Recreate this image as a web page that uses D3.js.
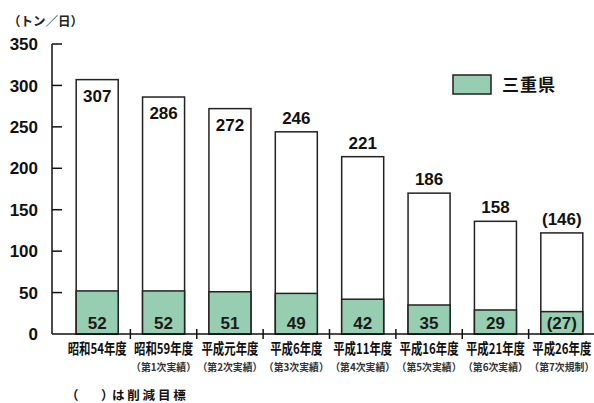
<!DOCTYPE html>
<html>
<head>
<meta charset="utf-8">
<script src="https://cdn.jsdelivr.net/npm/d3@7"></script>
<style>
  body { margin: 0; background: #fff; }
  svg { display: block; }
</style>
</head>
<body>
<div id="chart"></div>
<script>
const categories = ["昭和54年度", "昭和59年度", "平成元年度", "平成6年度", "平成11年度", "平成16年度", "平成21年度", "平成26年度"];
const subLabels = ["", "（第1次実績）", "（第2次実績）", "（第3次実績）", "（第4次実績）", "（第5次実績）", "（第6次実績）", "（第7次規制）"];
const totalBar = [307, 286, 272, 244, 214, 170, 136, 122];
const totalLabels = ["307", "286", "272", "246", "221", "186", "158", "(146)"];
const mieValues = [52, 52, 51, 49, 42, 35, 29, 27];
const mieLabels = ["52", "52", "51", "49", "42", "35", "29", "(27)"];
const yTicks = [0, 50, 100, 150, 200, 250, 300, 350];

const width = 594, height = 403;
const axisX = 52;
const green = "#97ceb2";

const svg = d3.select("#chart")
  .append("svg")
  .attr("width", width)
  .attr("height", height)
  .attr("font-family", "'Liberation Sans', Arial, sans-serif");

const x = d3.scaleBand().domain(categories).range([64, 595]).padding(0);
const y = d3.scaleLinear().domain([0, 350]).range([334, 44]);
const barW = x.bandwidth() * 0.633;
const cx = d => x(d) + x.bandwidth() / 2;

// unit label
svg.append("text")
  .attr("x", 8).attr("y", 26)
  .attr("font-family", "'Noto Sans CJK JP', sans-serif")
  .attr("font-size", 12.5)
  .attr("font-weight", "bold")
  .attr("fill", "#222")
  .text("（トン／日）");

// y axis
const yAxis = svg.append("g");
yAxis.append("line")
  .attr("x1", axisX).attr("x2", axisX)
  .attr("y1", y(350)).attr("y2", y(0))
  .attr("stroke", "#111").attr("stroke-width", 1.5);
yAxis.selectAll("line.tick")
  .data(yTicks.filter(t => t > 0))
  .join("line")
  .attr("class", "tick")
  .attr("x1", axisX).attr("x2", axisX + 10)
  .attr("y1", d => y(d)).attr("y2", d => y(d))
  .attr("stroke", "#111").attr("stroke-width", 1.5);
yAxis.selectAll("text")
  .data(yTicks)
  .join("text")
  .attr("x", 38)
  .attr("y", d => y(d))
  .attr("dy", "0.36em")
  .attr("text-anchor", "end")
  .attr("font-size", 17)
  .attr("font-weight", "bold")
  .attr("fill", "#111")
  .text(d => d);

// total bars
svg.append("g")
  .selectAll("rect")
  .data(categories)
  .join("rect")
  .attr("x", d => cx(d) - barW / 2)
  .attr("y", (d, i) => y(totalBar[i]))
  .attr("width", barW)
  .attr("height", (d, i) => y(0) - y(totalBar[i]))
  .attr("fill", "#fff")
  .attr("stroke", "#222")
  .attr("stroke-width", 1.5);

// mie bars
svg.append("g")
  .selectAll("rect")
  .data(categories)
  .join("rect")
  .attr("x", d => cx(d) - barW / 2)
  .attr("y", (d, i) => y(mieValues[i]))
  .attr("width", barW)
  .attr("height", (d, i) => y(0) - y(mieValues[i]))
  .attr("fill", green)
  .attr("stroke", "#222")
  .attr("stroke-width", 1.5);

// total labels
svg.append("g")
  .selectAll("text")
  .data(categories)
  .join("text")
  .attr("x", d => cx(d))
  .attr("y", (d, i) => totalBar[i] > 250 ? y(totalBar[i]) + 22 : y(totalBar[i]) - 8)
  .attr("text-anchor", "middle")
  .attr("font-size", 17)
  .attr("font-weight", "bold")
  .attr("fill", "#111")
  .text((d, i) => totalLabels[i]);

// mie labels
svg.append("g")
  .selectAll("text")
  .data(categories)
  .join("text")
  .attr("x", d => cx(d))
  .attr("y", 329)
  .attr("text-anchor", "middle")
  .attr("font-size", 17)
  .attr("font-weight", "bold")
  .attr("fill", "#1a1a1a")
  .text((d, i) => mieLabels[i]);

// x axis
svg.append("line")
  .attr("x1", axisX).attr("x2", width)
  .attr("y1", y(0)).attr("y2", y(0))
  .attr("stroke", "#111").attr("stroke-width", 1.5);
svg.append("g")
  .selectAll("line")
  .data(categories.slice(1))
  .join("line")
  .attr("x1", d => x(d)).attr("x2", d => x(d))
  .attr("y1", 329).attr("y2", 339)
  .attr("stroke", "#111").attr("stroke-width", 1.5);

// category labels
svg.append("g")
  .selectAll("text")
  .data(categories)
  .join("text")
  .attr("transform", d => `translate(${cx(d)},354) scale(0.76,1)`)
  .attr("text-anchor", "middle")
  .attr("font-family", "'Noto Sans CJK JP', sans-serif")
  .attr("font-size", 15)
  .attr("font-weight", "bold")
  .attr("fill", "#111")
  .text(d => d);

svg.append("g")
  .selectAll("text")
  .data(categories)
  .join("text")
  .attr("transform", d => `translate(${cx(d)},371) scale(0.94,1)`)
  .attr("text-anchor", "middle")
  .attr("font-family", "'Noto Sans CJK JP', sans-serif")
  .attr("font-size", 10.5)
  .attr("font-weight", "bold")
  .attr("fill", "#333")
  .text((d, i) => subLabels[i]);

// note
const note = svg.append("g")
  .attr("font-family", "'Noto Sans CJK JP', sans-serif")
  .attr("font-size", 12.5)
  .attr("font-weight", "bold")
  .attr("fill", "#111");
note.append("text").attr("x", 66).attr("y", 400).text("（");
note.append("text").attr("x", 101).attr("y", 400).text("）");
note.append("text").attr("x", 112).attr("y", 400)
  .attr("letter-spacing", 2.8)
  .text("は削減目標");

// legend
svg.append("rect")
  .attr("x", 453).attr("y", 75)
  .attr("width", 38).attr("height", 19)
  .attr("fill", green)
  .attr("stroke", "#222")
  .attr("stroke-width", 1.5);
svg.append("text")
  .attr("x", 502).attr("y", 85)
  .attr("dy", "0.36em")
  .attr("font-family", "'Noto Sans CJK JP', sans-serif")
  .attr("font-size", 17)
  .attr("font-weight", "bold")
  .attr("letter-spacing", 1)
  .attr("fill", "#111")
  .text("三重県");
</script>
</body>
</html>
